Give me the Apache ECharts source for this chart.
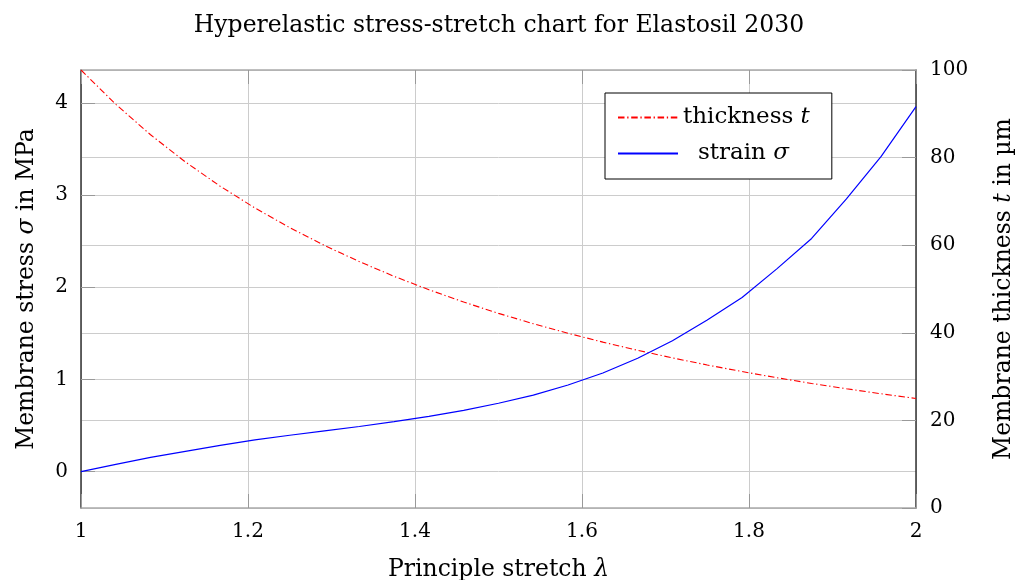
<!DOCTYPE html>
<html>
<head>
<meta charset="utf-8">
<script src="https://cdn.jsdelivr.net/npm/echarts@6/dist/echarts.min.js"></script>
<style>
  html, body { margin: 0; padding: 0; background: #fff; }
  #chart { width: 1017px; height: 580px; }
</style>
</head>
<body>
<div id="chart"></div>
<script>
// principle stretch lambda (sample points)
const stretch = [1, 1.0417, 1.0833, 1.125, 1.1667, 1.2083, 1.25, 1.2917, 1.3333, 1.375,
  1.4167, 1.4583, 1.5, 1.5417, 1.5833, 1.625, 1.6667, 1.7083, 1.75, 1.7917,
  1.8333, 1.875, 1.9167, 1.9583, 2];
// membrane stress sigma in MPa (left axis)
const stress = [0, 0.08, 0.155, 0.22, 0.285, 0.345, 0.395, 0.443, 0.49, 0.543,
  0.6, 0.665, 0.742, 0.83, 0.94, 1.07, 1.23, 1.42, 1.645, 1.89,
  2.2, 2.53, 2.96, 3.42, 3.96];
// membrane thickness t in um (right axis)
const thickness = [100, 92.16, 85.21, 79.01, 73.47, 68.49, 64.0, 59.93, 56.25, 52.89,
  49.83, 47.02, 44.44, 42.07, 39.89, 37.87, 36.0, 34.27, 32.65, 31.15,
  29.75, 28.44, 27.22, 26.08, 25.0];
const stressTicks = [0, 1, 2, 3, 4];

const font = 'DejaVu Serif';
const chart = echarts.init(document.getElementById('chart'), null, { renderer: 'canvas' });

const tickStyle = { show: true, inside: true, length: 14, lineStyle: { color: '#999', width: 1 } };
const gridStyle = { show: true, lineStyle: { color: '#cccccc', width: 1 } };
const nameRich = {
  n: { fontFamily: font, fontSize: 23.5, color: '#000' },
  i: { fontFamily: font, fontSize: 23.5, fontStyle: 'italic', color: '#000' }
};

const option = {
  animation: false,
  backgroundColor: '#fff',
  title: {
    text: 'Hyperelastic stress-stretch chart for Elastosil 2030',
    left: 494,
    textAlign: 'center',
    top: 9,
    textStyle: { fontFamily: font, fontWeight: 'normal', fontSize: 23.5, color: '#000' }
  },
  grid: { left: 81, right: 101, top: 70, bottom: 72, show: false, outerBoundsMode: 'none' },
  legend: {
    left: 605,
    top: 93,
    orient: 'vertical',
    backgroundColor: '#fff',
    borderColor: '#000',
    borderWidth: 1,
    borderRadius: 0,
    padding: [13, 22, 14, 12],
    itemWidth: 60,
    itemHeight: 22,
    itemGap: 13,
    itemStyle: { opacity: 0 },
    formatter: function (name) {
      return name === 'thickness' ? '{n|thickness }{i|t}' : '{s|strain }{i|σ}';
    },
    textStyle: {
      rich: {
        n: { fontFamily: font, fontSize: 23, lineHeight: 22, color: '#000' },
        s: { fontFamily: font, fontSize: 23, lineHeight: 22, color: '#000', padding: [0, 0, 0, 15] },
        i: { fontFamily: font, fontSize: 23, lineHeight: 22, fontStyle: 'italic', color: '#000' }
      }
    },
    data: ['thickness', 'strain']
  },
  xAxis: [{
    type: 'value',
    min: 1, max: 2, interval: 0.2,
    position: 'bottom',
    name: '{n|Principle stretch }{i|λ}',
    nameLocation: 'middle',
    nameGap: 50,
    nameTextStyle: { rich: nameRich },
    axisLine: { show: true, onZero: false, lineStyle: { color: '#aaa', width: 1.5 } },
    axisTick: tickStyle,
    splitLine: gridStyle,
    axisLabel: {
      margin: 14, fontFamily: font, fontSize: 20, color: '#000',
      formatter: v => String(Math.round(v * 10) / 10)
    }
  }, {
    type: 'value',
    min: 1, max: 2, interval: 0.2,
    position: 'top',
    axisLine: { show: true, onZero: false, lineStyle: { color: '#aaa', width: 1.5 } },
    axisTick: tickStyle,
    splitLine: { show: false },
    axisLabel: { show: false }
  }],
  yAxis: [{
    type: 'value',
    position: 'left',
    min: -0.394, max: 4.357,
    name: '{n|Membrane stress }{i|σ}{n| in MPa}',
    nameLocation: 'middle',
    nameRotate: 90,
    nameGap: 42,
    nameTextStyle: { rich: nameRich },
    axisLine: { show: true, onZero: false, lineStyle: { color: '#333', width: 1.5 } },
    axisTick: Object.assign({}, tickStyle, { customValues: stressTicks }),
    splitLine: gridStyle,
    axisLabel: {
      customValues: stressTicks,
      margin: 13, fontFamily: font, fontSize: 20, color: '#000'
    }
  }, {
    type: 'value',
    position: 'right',
    min: 0, max: 100, interval: 20,
    name: '{n|Membrane thickness }{i|t}{n| in µm}',
    nameLocation: 'middle',
    nameRotate: 90,
    nameGap: 76,
    nameTextStyle: { rich: nameRich },
    axisLine: { show: true, onZero: false, lineStyle: { color: '#333', width: 1.5 } },
    axisTick: tickStyle,
    splitLine: gridStyle,
    axisLabel: { margin: 14, fontFamily: font, fontSize: 20, color: '#000' }
  }],
  series: [{
    name: 'thickness',
    type: 'line',
    xAxisIndex: 0,
    yAxisIndex: 1,
    symbol: 'none',
    data: stretch.map((x, i) => [x, thickness[i]]),
    lineStyle: { color: '#ff0000', width: 1.1, type: [6.5, 2.7, 1.3, 2.7] },
    itemStyle: { color: '#ff0000' },
    z: 3
  }, {
    name: 'strain',
    type: 'line',
    xAxisIndex: 0,
    yAxisIndex: 0,
    symbol: 'none',
    data: stretch.map((x, i) => [x, stress[i]]),
    lineStyle: { color: '#0000ff', width: 1.2 },
    itemStyle: { color: '#0000ff' },
    z: 3
  }]
};

chart.setOption(option);
</script>
</body>
</html>
